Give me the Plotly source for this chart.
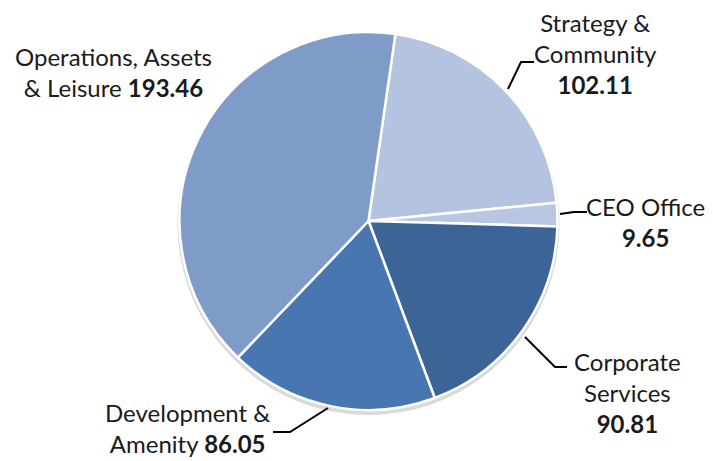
import plotly.graph_objects as go

# slice data, clockwise from the top
labels = ["Strategy & Community", "CEO Office", "Corporate Services",
          "Development & Amenity", "Operations, Assets & Leisure"]
values = [102.11, 9.65, 90.81, 86.05, 193.46]
colors = ["#B4C3DF", "#B8C6E1", "#3C6496", "#4776B0", "#7F9CC9"]

# how each label is broken into lines (value goes after the last part)
label_text = [
    "Strategy &<br>Community<br><b>102.11</b>",
    "CEO Office<br><b>9.65</b>",
    "Corporate<br>Services<br><b>90.81</b>",
    "Development &<br>Amenity <b>86.05</b>",
    "Operations, Assets<br>& Leisure <b>193.46</b>",
]

W, H = 713, 461
OFF = 8  # page body margin, the figure sits 8px in from the window corner


def px_x(x):
    return (x - OFF) / W


def px_y(y):
    return 1 - (y - OFF) / H


cx, cy, r = 368.5, 221, 189

fig = go.Figure()

# soft shadow behind the pie
fig.add_trace(go.Pie(
    values=[1], marker=dict(colors=["#DADADA"], line=dict(width=0)),
    textinfo="none", hoverinfo="skip", sort=False, showlegend=False,
    domain=dict(x=[px_x(cx - r - 2), px_x(cx + r + 2)],
                y=[px_y(cy + r + 5), px_y(cy - r + 1)]),
))

fig.add_trace(go.Pie(
    labels=labels, values=values, sort=False, direction="clockwise",
    rotation=8.2, textinfo="none", showlegend=False,
    marker=dict(colors=colors, line=dict(color="white", width=2.5)),
    domain=dict(x=[px_x(cx - r), px_x(cx + r)], y=[px_y(cy + r), px_y(cy - r)]),
))

# label positions (pixel centres) and leader lines
label_pos = [(595, 53), (645, 222), (627, 392), (187, 428), (113, 72)]
leaders = [
    [(508, 89), (521, 62), (534, 62)],
    [(560, 214), (574, 212), (587, 212)],
    [(525, 337), (555, 367), (567, 367)],
    [(328, 408), (290, 432), (273, 432)],
    None,
]

for txt, (x, y), pts in zip(label_text, label_pos, leaders):
    fig.add_annotation(x=px_x(x), y=px_y(y), xref="paper", yref="paper",
                       text=txt, showarrow=False, align="center",
                       xanchor="center", yanchor="middle",
                       font=dict(family="Lato", size=24, color="#1a1a1a"))
    if pts:
        path = "M " + " L ".join(f"{px_x(a)},{px_y(b)}" for a, b in pts)
        fig.add_shape(type="path", path=path, xref="paper", yref="paper",
                      line=dict(color="black", width=2))

fig.update_layout(width=W, height=H, margin=dict(l=0, r=0, t=0, b=0),
                  paper_bgcolor="white", plot_bgcolor="white")

fig.write_html("out.html")
